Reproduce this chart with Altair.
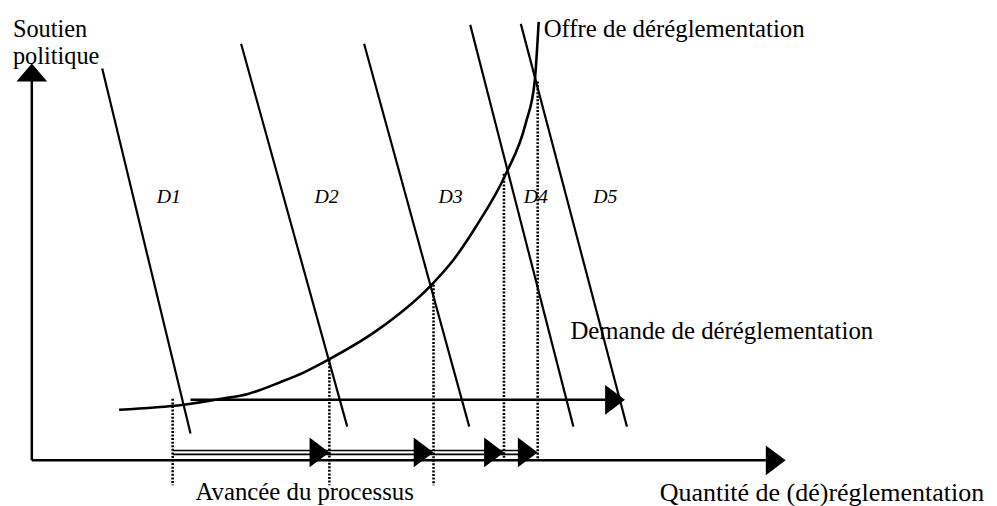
import altair as alt
import pandas as pd

# Diagram coordinates: q = quantity of (de)regulation (rightward from origin),
# s = political support (upward from origin). Units are arbitrary (1 unit ~ 1 px).

# Demand curves D1..D5 (straight lines, top and bottom ends)
demand_labels = ["D1", "D2", "D3", "D4", "D5"]
demand_top_q = [71, 211, 335, 442, 493]
demand_top_s = [395, 420, 420, 439, 440]
demand_bot_q = [160, 318, 441, 546, 600]
demand_bot_s = [27, 34, 34, 34, 34]
demand_label_q = [126, 285, 410, 496, 566]
demand_label_s = [259, 259, 259, 259, 259]

# Supply of deregulation (convex curve)
supply_q = [88, 153, 191, 218, 251, 275, 300, 348, 403, 425, 448, 478, 498, 507, 511]
supply_s = [51, 56, 62, 67, 79, 89, 102, 131, 177, 202, 236, 289, 340, 382, 442]

# Equilibria (dotted projections)
equil_q = [142, 300, 405, 476, 510]
equil_top_s = [62, 102, 177, 289, 382]
equil_bot_s = [-25, -25, -25, 0, 0]

# Process arrows ("Avancée du processus")
process_start_q = 142
process_tip_q = [300, 405, 476, 510]
process_s = [10, 6]
process_arrow_s = 8

# Upper demand-shift arrow
shift_start_q = 160
shift_tip_q = 598
shift_s = 61

# Axes
x_axis_tip_q = 760
y_axis_tip_s = 400

# Text labels
texts = ["Soutien", "politique", "Offre de déréglementation",
         "Demande de déréglementation", "Avancée du processus",
         "Quantité de (dé)réglementation"]
text_q = [-19, -19, 516, 543, 165, 633]
text_s = [427, 400, 427, 122, -40, -41]
text_size = [24.5, 24.5, 25, 25, 25, 26.2]

xs = alt.Scale(domain=[-24, 965], nice=False, zero=False)
ys = alt.Scale(domain=[-44, 454], nice=False, zero=False)

def X(f):
    return alt.X(f, type="quantitative", scale=xs, axis=None)

def Y(f):
    return alt.Y(f, type="quantitative", scale=ys, axis=None)

demand_df = pd.DataFrame({"label": demand_labels, "q1": demand_top_q, "s1": demand_top_s,
                          "q2": demand_bot_q, "s2": demand_bot_s,
                          "lq": demand_label_q, "ls": demand_label_s})
supply_df = pd.DataFrame({"q": supply_q, "s": supply_s})
equil_df = pd.DataFrame({"q": equil_q, "s1": equil_top_s, "s2": equil_bot_s})

axes_df = pd.DataFrame({"q1": [0, 0], "s1": [0, 0],
                        "q2": [x_axis_tip_q - 20, 0], "s2": [0, y_axis_tip_s - 16]})
lines_df = pd.DataFrame({
    "q1": [shift_start_q, process_start_q, process_start_q],
    "q2": [shift_tip_q - 16, process_tip_q[-1] - 4, process_tip_q[-1] - 4],
    "s": [shift_s, process_s[0], process_s[1]],
    "w": [2.5, 1.6, 1.6],
})
right_heads = pd.DataFrame({
    "q": process_tip_q + [shift_tip_q, x_axis_tip_q],
    "s": [process_arrow_s] * len(process_tip_q) + [shift_s, 0],
})
up_heads = pd.DataFrame({"q": [0], "s": [y_axis_tip_s]})
text_df = pd.DataFrame({"t": texts, "q": text_q, "s": text_s, "size": text_size})

demand = alt.Chart(demand_df).mark_rule(color="black", strokeWidth=2.2).encode(
    x=X("q1"), y=Y("s1"), x2="q2", y2="s2")
demand_text = alt.Chart(demand_df).mark_text(
    font="Liberation Serif", fontStyle="italic", fontSize=20, align="left",
    baseline="alphabetic", color="black").encode(x=X("lq"), y=Y("ls"), text="label")
supply = alt.Chart(supply_df).mark_line(color="black", strokeWidth=2.6,
                                        interpolate="monotone").encode(x=X("q"), y=Y("s"))
equil = alt.Chart(equil_df).mark_rule(color="black", strokeWidth=2.6,
                                      strokeDash=[2, 1.6]).encode(x=X("q"), y=Y("s1"), y2="s2")
axes = alt.Chart(axes_df).mark_rule(color="black", strokeWidth=2.5).encode(
    x=X("q1"), y=Y("s1"), x2="q2", y2="s2")
lines = alt.Chart(lines_df).mark_rule(color="black").encode(
    x=X("q1"), x2="q2", y=Y("s"),
    strokeWidth=alt.StrokeWidth("w:Q", scale=None, legend=None))
rheads = alt.Chart(right_heads).mark_point(
    shape="M -1.333 -1 L 0 0 L -1.333 1 Z", size=900, filled=True,
    color="black", opacity=1, strokeWidth=0).encode(x=X("q"), y=Y("s"))
uheads = alt.Chart(up_heads).mark_point(
    shape="M -1 1.161 L 0 0 L 1 1.161 Z", size=961, filled=True,
    color="black", opacity=1, strokeWidth=0).encode(x=X("q"), y=Y("s"))
labels = alt.Chart(text_df).mark_text(
    font="Liberation Serif", align="left", baseline="alphabetic",
    color="black").encode(x=X("q"), y=Y("s"), text="t",
                          size=alt.Size("size:Q", scale=None, legend=None))

chart = alt.layer(demand, supply, equil, axes, lines, rheads, uheads, demand_text, labels).properties(
    width=989, height=498, padding=0, autosize=alt.AutoSizeParams(type="none"),
    background="white",
).configure_view(stroke=None)

chart.save("out.html", embed_options={"renderer": "svg", "actions": False})
